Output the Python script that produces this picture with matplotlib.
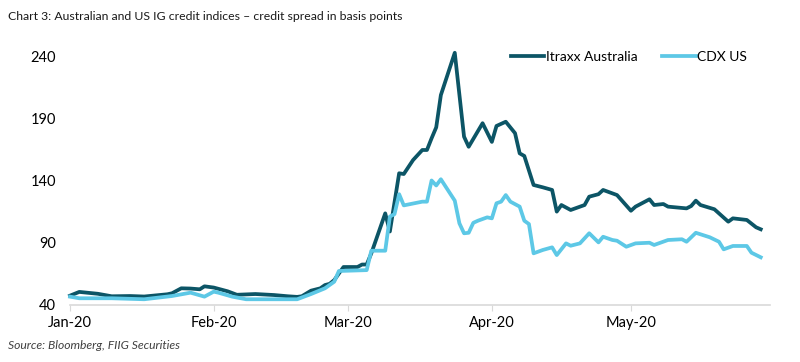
import matplotlib
matplotlib.use("Agg")
import matplotlib.pyplot as plt
import matplotlib.dates as mdates
import pandas as pd

itraxx_dates = ["2020-01-01", "2020-01-03", "2020-01-07", "2020-01-10", "2020-01-14", "2020-01-17",
                "2020-01-22", "2020-01-23", "2020-01-25", "2020-01-27", "2020-01-29", "2020-01-30",
                "2020-02-01", "2020-02-04", "2020-02-06", "2020-02-10", "2020-02-14", "2020-02-17",
                "2020-02-19", "2020-02-20", "2020-02-22", "2020-02-24", "2020-02-25", "2020-02-26",
                "2020-02-27", "2020-02-29", "2020-03-03", "2020-03-04", "2020-03-05", "2020-03-06",
                "2020-03-09", "2020-03-10", "2020-03-12", "2020-03-13", "2020-03-15", "2020-03-17",
                "2020-03-18", "2020-03-19", "2020-03-20", "2020-03-21", "2020-03-24", "2020-03-26",
                "2020-03-27", "2020-03-30", "2020-04-01", "2020-04-02", "2020-04-04", "2020-04-06",
                "2020-04-07", "2020-04-08", "2020-04-10", "2020-04-12", "2020-04-14", "2020-04-15",
                "2020-04-16", "2020-04-18", "2020-04-21", "2020-04-22", "2020-04-24", "2020-04-25",
                "2020-04-28", "2020-05-01", "2020-05-02", "2020-05-05", "2020-05-06", "2020-05-08",
                "2020-05-09", "2020-05-13", "2020-05-14", "2020-05-15", "2020-05-16", "2020-05-19",
                "2020-05-22", "2020-05-23", "2020-05-26", "2020-05-28", "2020-05-29"]
itraxx_values = [47.5, 50.5, 49, 47, 47.2, 46.8,
                 48.6, 49.4, 53.4, 53.2, 52.6, 55,
                 54, 51, 48.2, 48.8, 48, 47,
                 46.5, 47, 51.5, 53.4, 56, 57,
                 60, 70.5, 70.5, 72.5, 72.5, 81.5,
                 113.6, 99, 145.8, 145.2, 156.4, 164.5,
                 164.5, 173.9, 182.7, 208.6, 242.6, 175.2,
                 167.1, 186, 171, 183.8, 187.2, 178,
                 161.8, 159.7, 136.4, 134.5, 132.4, 115,
                 120.3, 116.3, 120.3, 127, 129, 132.4,
                 128.3, 115.7, 119, 124.9, 120.3, 121.1,
                 119, 117.6, 119.5, 123.8, 120.3, 116.9,
                 106.9, 109.6, 108.3, 102.4, 100.8]

cdx_dates = ["2020-01-01", "2020-01-03", "2020-01-10", "2020-01-17", "2020-01-23", "2020-01-27",
             "2020-01-30", "2020-02-01", "2020-02-02", "2020-02-05", "2020-02-08", "2020-02-14",
             "2020-02-19", "2020-02-22", "2020-02-25", "2020-02-27", "2020-02-28", "2020-03-05",
             "2020-03-06", "2020-03-09", "2020-03-10", "2020-03-11", "2020-03-12", "2020-03-13",
             "2020-03-17", "2020-03-18", "2020-03-19", "2020-03-20", "2020-03-21", "2020-03-24",
             "2020-03-25", "2020-03-26", "2020-03-27", "2020-03-28", "2020-03-29", "2020-03-31",
             "2020-04-01", "2020-04-02", "2020-04-03", "2020-04-04", "2020-04-05", "2020-04-07",
             "2020-04-08", "2020-04-09", "2020-04-10", "2020-04-12", "2020-04-14", "2020-04-15",
             "2020-04-17", "2020-04-18", "2020-04-20", "2020-04-22", "2020-04-24", "2020-04-25",
             "2020-04-27", "2020-04-28", "2020-04-30", "2020-05-02", "2020-05-05", "2020-05-06",
             "2020-05-09", "2020-05-12", "2020-05-13", "2020-05-15", "2020-05-18", "2020-05-20",
             "2020-05-21", "2020-05-23", "2020-05-26", "2020-05-27", "2020-05-29"]
cdx_values = [46.7, 45.4, 45.4, 44.6, 47.2, 49.9,
              46.7, 50.7, 49.9, 46.7, 44.6, 44.6,
              44.6, 48.8, 53.4, 58.7, 67.3, 68,
              83.6, 83.6, 111, 113, 129, 120,
              123, 123, 140, 136, 141, 123.8,
              105.6, 97.6, 98, 106, 107.7, 110.4,
              109.6, 121.7, 123, 128.3, 123, 119,
              107.7, 105, 81.5, 84.2, 86.3, 80.1,
              89.5, 87.6, 89.5, 97.6, 90.3, 94.8,
              92.2, 91.6, 86.8, 89.5, 90, 88.2,
              92.2, 92.8, 90.8, 98, 94.4, 90.8,
              84.7, 87.4, 87.4, 82, 78.3]

series_names = ["Itraxx Australia", "CDX US"]
y_ticks = [40, 90, 140, 190, 240]
x_tick_dates = ["2020-01-01", "2020-02-01", "2020-03-01", "2020-04-01", "2020-05-01"]
title = "Chart 3: Australian and US IG credit indices \u2013 credit spread in basis points"
source = "Source: Bloomberg, FIIG Securities"

plt.rcParams['font.family'] = ['Lato', 'DejaVu Sans']

fig = plt.figure(figsize=(8.0, 3.62), dpi=100)
ax = fig.add_axes([0.0875, 0.1575, 0.875, 0.6878])

ax.plot(pd.to_datetime(itraxx_dates), itraxx_values, color="#0C5566", lw=2.7,
        label=series_names[0], solid_joinstyle="round", clip_on=False)
ax.plot(pd.to_datetime(cdx_dates), cdx_values, color="#5DC8E6", lw=2.7,
        label=series_names[1], solid_joinstyle="round", clip_on=False)

ax.set_ylim(40, 240)
ax.set_xlim(pd.Timestamp("2020-01-01"), pd.Timestamp("2020-05-31"))
ax.set_yticks(y_ticks)
ax.set_xticks(pd.to_datetime(x_tick_dates))
ax.xaxis.set_major_formatter(mdates.DateFormatter("%b-%y"))

for s in ["top", "right", "left"]:
    ax.spines[s].set_visible(False)
ax.spines["bottom"].set_color("#D9D9D9")
ax.spines["bottom"].set_linewidth(1.2)
ax.tick_params(axis="y", length=0, labelsize=10.5, pad=10, colors="#000000")
ax.tick_params(axis="x", length=4, color="#D9D9D9", labelsize=10.5, pad=4)

leg = ax.legend(loc="upper right", bbox_to_anchor=(0.985, 1.07), ncol=2, frameon=False,
                fontsize=10, handlelength=2.4, handletextpad=0.1, columnspacing=1.8)

fig.text(0.01, 0.955, title, fontsize=8.8, ha="left", va="center", color="#1a1a1a")
fig.text(0.01, 0.045, source, fontsize=8.7, ha="left", va="center", style="italic",
         color="#404040")

fig.savefig("out.png", dpi=100)
